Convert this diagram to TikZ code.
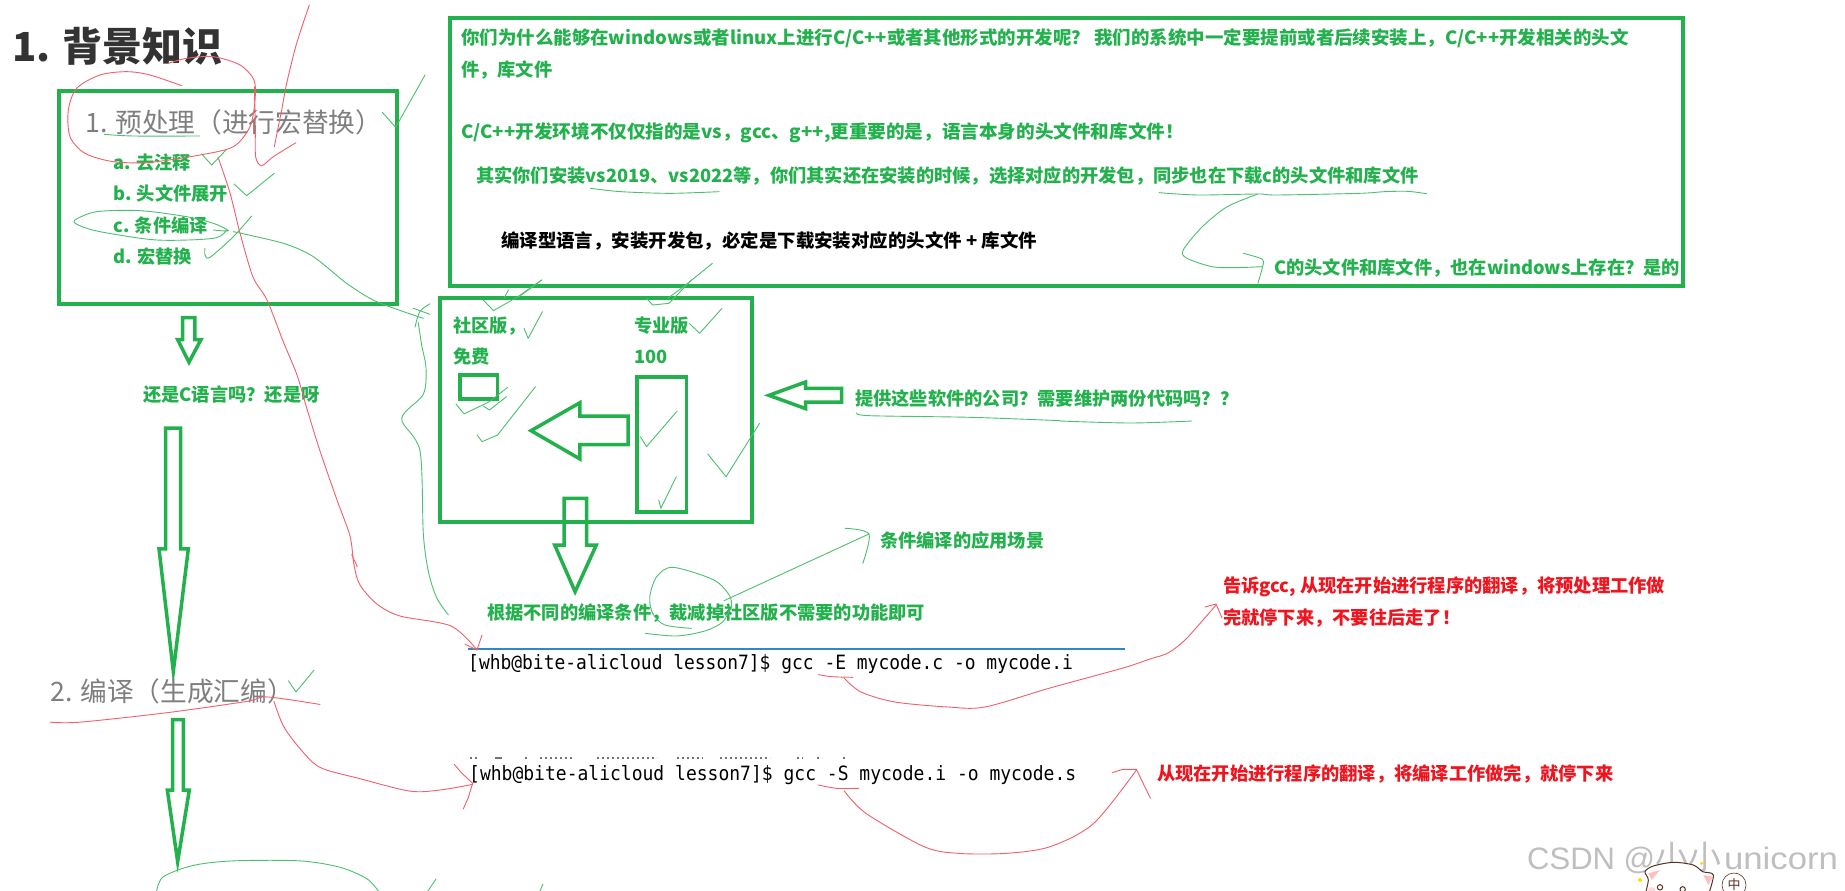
\documentclass[tikz,border=0pt]{standalone}
\usepackage{fontspec}
\setmainfont{Noto Sans CJK SC}
\newfontfamily\termfont{DejaVu Sans Mono}
\newfontfamily\wmfont{Liberation Sans}
\newfontfamily\wmcjk{Noto Sans CJK SC}
\definecolor{kgreen}{HTML}{22B14C}
\definecolor{kred}{HTML}{F0141E}
\definecolor{kgray}{HTML}{7F7F7F}
\definecolor{kpen}{HTML}{4CC070}
\definecolor{kredpen}{HTML}{F0606A}
\definecolor{kbrown}{HTML}{5A3223}
\definecolor{kblue}{HTML}{3287C8}
\newcommand{\gp}[2]{\draw[gpen,#1] plot[smooth,tension=.5] coordinates {#2};}
\newcommand{\rp}[2]{\draw[rpen,#1] plot[smooth,tension=.5] coordinates {#2};}
\newcommand{\gl}[2]{\draw[gpen,#1] plot[sharp plot] coordinates {#2};}
\newcommand{\rl}[2]{\draw[rpen,#1] plot[sharp plot] coordinates {#2};}
\tikzset{
  gpen/.style={draw=kpen,line width=.9pt,line join=round,line cap=round},
  rpen/.style={draw=kredpen,line width=.9pt,line join=round,line cap=round},
  kbox/.style={draw=kgreen,line width=3.5pt,fill=none},
  karrow/.style={draw=kgreen,line width=3.5pt,line join=miter,fill=none},
  gt/.style={anchor=west,inner sep=0pt,text=kgreen,font=\bfseries\fontsize{18.25}{20}\selectfont,text height=15.8pt,text depth=2.2pt},
  bt/.style={gt,text=black},
  rt/.style={gt,text=kred},
  grayt/.style={anchor=west,inner sep=0pt,text=kgray,font=\fontsize{26.7}{28}\selectfont,text height=23.5pt,text depth=3.2pt},
  termt/.style={anchor=west,inner sep=0pt,text=black,font=\termfont\fontsize{17.9}{20}\selectfont,text height=15.8pt,text depth=2.2pt},
  zA/.style={xscale=1/3,yscale=1/3},
  zB/.style={shift={(420,0)},xscale=1/2.24,yscale=1/3},
  zC/.style={shift={(1120,0)},xscale=1/2.61,yscale=1/3},
  zD/.style={shift={(420,280)},xscale=1/2.45,yscale=1/3},
  zE/.style={shift={(420,600)},xscale=1/2.063,yscale=1/3},
  zF/.style={shift={(0,300)},xscale=1/3,yscale=1/2.653},
  zH/.style={shift={(1520,830)},xscale=1/3,yscale=1/3},
}
\begin{document}
\begin{tikzpicture}[x=1pt,y=-1pt]
\useasboundingbox (0,0) rectangle (1845,891);
\fill[white] (0,0) rectangle (1845,891);
\clip (0,0) rectangle (1845,891);

% boxes
\draw[kbox] (59,91) rectangle (397,304);
\draw[kbox] (450,18) rectangle (1683,286);
\draw[kbox] (440,298) rectangle (752,522);
\draw[kbox] (460,375) rectangle (497.5,399);
\draw[kbox] (637,377) rectangle (686.5,512);

% block arrows
\draw[karrow,zD] (272,452)--(392,368)--(392,408)--(510,408)--(510,494)--(392,494)--(392,537)--cycle;
\draw[karrow,zD] (855,346)--(945,306)--(945,325)--(1033,325)--(1033,366)--(945,366)--(945,386)--cycle;
\draw[karrow,zD] (353,655)--(408,655)--(408,795)--(432,795)--(380,935)--(330,795)--(353,795)--cycle;
\draw[karrow,zF] (548,47)--(585,47)--(585,105)--(603,105)--(567,165)--(533,105)--(548,105)--cycle;
\draw[karrow,zF] (497,340)--(542,340)--(542,660)--(565,660)--(520,985)--(477,660)--(497,660)--cycle;
\draw[karrow,zF] (518,1113)--(550,1113)--(550,1300)--(568,1300)--(533,1490)--(502,1300)--(518,1300)--cycle;

% title and left column
\node[anchor=west,inner sep=0pt,text=black!80,font=\bfseries\fontsize{40}{44}\selectfont] (title) at (12,46) {1. 背景知识};
\node[grayt] (step1) at (85,122) {1. 预处理（进行宏替换）};
\node[gt] (ia) at (113,163) {a. 去注释};
\node[gt] (ib) at (113,194) {b. 头文件展开};
\node[gt] (ic) at (113,226) {c. 条件编译};
\node[gt] (id) at (113,257) {d. 宏替换};
\node[gt] (still) at (143,395) {还是C语言吗？还是呀};
\node[grayt] (step2) at (50,691) {2. 编译（生成汇编）};

% big box text
\node[gt] (l1) at (461,38) {\scalebox{1.012}[1]{你们为什么能够在windows或者linux上进行C/C++或者其他形式的开发呢？ 我们的系统中一定要提前或者后续安装上，C/C++开发相关的头文}};
\node[gt] (l2) at (461,70) {件，库文件};
\node[gt] (l3) at (461,132) {\scalebox{1.019}[1]{C/C++开发环境不仅仅指的是vs，gcc、g++,更重要的是，语言本身的头文件和库文件！}};
\node[gt] (l4) at (476,176) {其实你们安装vs2019、vs2022等，你们其实还在安装的时候，选择对应的开发包，同步也在下载c的头文件和库文件};
\node[bt] (l5) at (501,241) {\scalebox{1.01}[1]{编译型语言，安装开发包，必定是下载安装对应的头文件 + 库文件}};
\node[gt] (l6) at (1274,268) {C的头文件和库文件，也在windows上存在？是的};

% editions box
\node[gt] (community) at (453,326) {社区版，};
\node[gt] (free) at (453,357) {免费};
\node[gt] (pro) at (634,326) {专业版};
\node[gt] (hundred) at (634,357) {100};
\node[gt] (company) at (855,399) {提供这些软件的公司？需要维护两份代码吗？？};
\node[gt] (scene) at (880,541) {条件编译的应用场景};
\node[gt] (cut) at (487,613) {根据不同的编译条件，裁减掉社区版不需要的功能即可};

% terminal
\draw[draw=kblue,line width=1.8pt] (467.5,649)--(1125,649);
\node[termt] (t1) at (468,663) {\scalebox{1.002}[1.1]{[whb@bite-alicloud lesson7]\$ gcc -E mycode.c -o mycode.i}};
\node[termt] (t2) at (469,774) {\scalebox{1.006}[1.1]{[whb@bite-alicloud lesson7]\$ gcc -S mycode.i -o mycode.s}};
\begin{scope}[black!55,line width=1.2pt]
\draw[dash pattern=on 2pt off 3pt] (470,758)--(477,758);
\draw (495,758)--(502,758);
\draw[dash pattern=on 2pt off 3pt] (525,758)--(528,758) (540,758)--(573,758) (597,758)--(657,758) (677,758)--(703,758) (720,758)--(770,758) (797,758)--(803,758) (817,758)--(822,758) (843,758)--(846,758);
\end{scope}

% red text
\node[rt] (r1) at (1223,586) {告诉gcc, 从现在开始进行程序的翻译，将预处理工作做};
\node[rt] (r2) at (1223,618) {完就停下来，不要往后走了！};
\node[rt] (r3) at (1157,774) {从现在开始进行程序的翻译，将编译工作做完，就停下来};

% red hand strokes
\rp{zA}{(545,257)(450,225)(380,215)(300,225)(230,265)(205,330)(210,410)(255,460)(340,485)(450,487)(600,465)(700,440)(750,380)(765,300)(762,240)(720,195)(640,170)(560,175)(505,190)}
\rp{zA}{(763,260)(766,380)(767,470)(785,497)(820,470)(888,428)}
\rp{zA}{(928,15)(890,130)(860,250)(845,330)(823,440)}
\rp{}{(218,157)(230,193)(240,233)(253,277)(267,300)(283,341)(297,375)(307,409)(320,451)(337,500)(350,536)(354,565)(360,585)(377,604)(400,616)(451,626)(477,650)}
\rl{}{(465,644)(477,650)(482,635)}
\rl{zF}{(1055,675)(1072,708)}
\rp{zF}{(150,1120)(240,1120)(500,1095)(740,1065)(800,1053)(960,1073)}
\rp{zF}{(822,1065)(850,1130)(900,1190)(960,1240)(1080,1270)(1230,1303)(1320,1300)(1418,1285)}
\rl{zF}{(1363,1232)(1385,1255)(1418,1282)(1405,1320)(1390,1350)}
\rp{zE}{(822,224)(850,230)(893,232)}
\rp{}{(844,678)(861,692)(895,702)(948,707)(985,707)(1050,688)(1123,668)(1150,659)(1168,653)(1185,640)(1203,620)(1216,605)}
\rl{}{(1205,607)(1216,604)(1222,618)}
\rp{zE}{(822,555)(860,565)(905,565)}
\rp{zE}{(875,572)(920,640)(1040,740)(1110,760)(1210,760)(1300,740)(1390,670)(1478,510)}
\rl{zE}{(1428,518)(1450,508)(1478,508)(1507,595)}

% green hand strokes
\gl{zA}{(1147,337)(1187,382)(1275,225)}
\gp{zA}{(313,403)(400,408)(600,408)}
\gl{zA}{(605,462)(635,495)(678,450)}
\gl{zA}{(702,552)(740,587)(823,520)}
\gp{zA}{(680,690)(640,715)(470,720)(300,695)(235,675)(225,660)(290,635)(420,632)(560,650)(640,670)(685,692)(640,690)}
\gp{zA}{(700,695)(850,730)(940,770)(1040,850)(1130,905)(1270,955)}
\gp{zA}{(755,648)(700,710)(630,772)(615,765)(615,745)}
\gl{zF}{(1240,22)(1290,38)}
\gp{zF}{(1290,10)(1260,30)(1245,72)}
\gp{zF}{(1255,60)(1265,120)(1278,180)(1270,250)(1205,315)(1260,400)(1270,620)(1285,720)(1310,790)(1345,835)}
\gp{zB}{(382,565)(450,575)(560,580)(670,575)}
\gp{zC}{(102,578)(205,585)(360,582)(410,585)(625,580)(690,575)(750,574)(800,581)}
\gp{zC}{(360,582)(280,620)(215,680)(165,750)(175,775)(240,800)(300,803)(372,800)}
\gp{zC}{(322,760)(372,778)(372,800)(360,850)}
\gl{zB}{(273,840)(222,890)}
\gl{zB}{(198,870)(188,895)}
\gp{zB}{(655,790)(590,860)(555,895)}
\gl{zD}{(298,0)(240,50)(180,92)(155,60)}
\gl{zD}{(665,0)(610,70)(570,75)(555,55)}
\gl{zD}{(255,145)(265,175)(300,95)}
\gl{zD}{(660,130)(685,160)(740,85)}
\gl{zD}{(88,372)(108,402)(170,365)(215,322)}
\gl{zD}{(155,378)(170,390)(212,350)}
\gl{zD}{(140,465)(152,485)(190,465)(283,320)}
\gl{zD}{(540,470)(555,500)(630,393)}
\gl{zD}{(585,660)(590,685)(628,590)}
\gl{zD}{(705,522)(750,590)(832,430)}
\gp{zD}{(1070,398)(1100,407)(1350,412)(1568,422)}
\gp{}{(1060,421)(1130,423)(1192,421)}
\gp{zD}{(665,1045)(600,1035)(570,1000)(563,950)(580,890)(620,862)(720,900)(760,950)(762,990)}
\gp{zE}{(465,100)(530,108)(590,92)(625,65)(640,25)}
\gl{zD}{(745,962)(1100,762)}
\gp{zD}{(1042,745)(1100,762)(1085,850)}
\gl{zF}{(865,1010)(888,1040)(942,982)}
\gp{zF}{(470,1568)(490,1530)(580,1500)(700,1488)(900,1488)(1020,1505)(1100,1535)(1135,1568)}
\gl{}{(428,891)(436,879)}
\gl{}{(540,891)(543,884)}

% watermark
\node[anchor=west,inner sep=0pt,text=black!25,font=\wmfont\fontsize{31}{34}\selectfont] (wm) at (1527,858) {CSDN @{\wmcjk\fontsize{33}{34}\selectfont 小小}\hspace{3pt}\scalebox{1.12}[1]{unicorn}};

% mascot
\begin{scope}[zH]
\draw[draw=kbrown,line width=1pt,fill=white] plot[smooth,tension=.5] coordinates {(375,195)(385,150)(375,125)(400,108)(460,97)(520,105)(548,125)(580,135)(565,195)};
\fill[pink] (385,130)--(420,120)--(395,150)--cycle;
\fill[pink] (550,135)--(578,140)--(565,165)--cycle;
\fill[pink!60] (395,183) circle[radius=12];
\draw[draw=kbrown,line width=1pt] (420,172) circle[radius=8];
\draw[draw=kbrown,line width=1pt] (488,178) circle[radius=8];
\fill[yellow!80!orange] (360,150) circle[radius=6];
\fill[yellow!80!orange] (545,100) circle[radius=5];
\end{scope}
\node[draw=kbrown,circle,line width=.6pt,minimum size=24pt,inner sep=0pt,font=\fontsize{13}{14}\selectfont,text=kbrown] (ime) at (1734,885) {中};
\end{tikzpicture}
\end{document}
